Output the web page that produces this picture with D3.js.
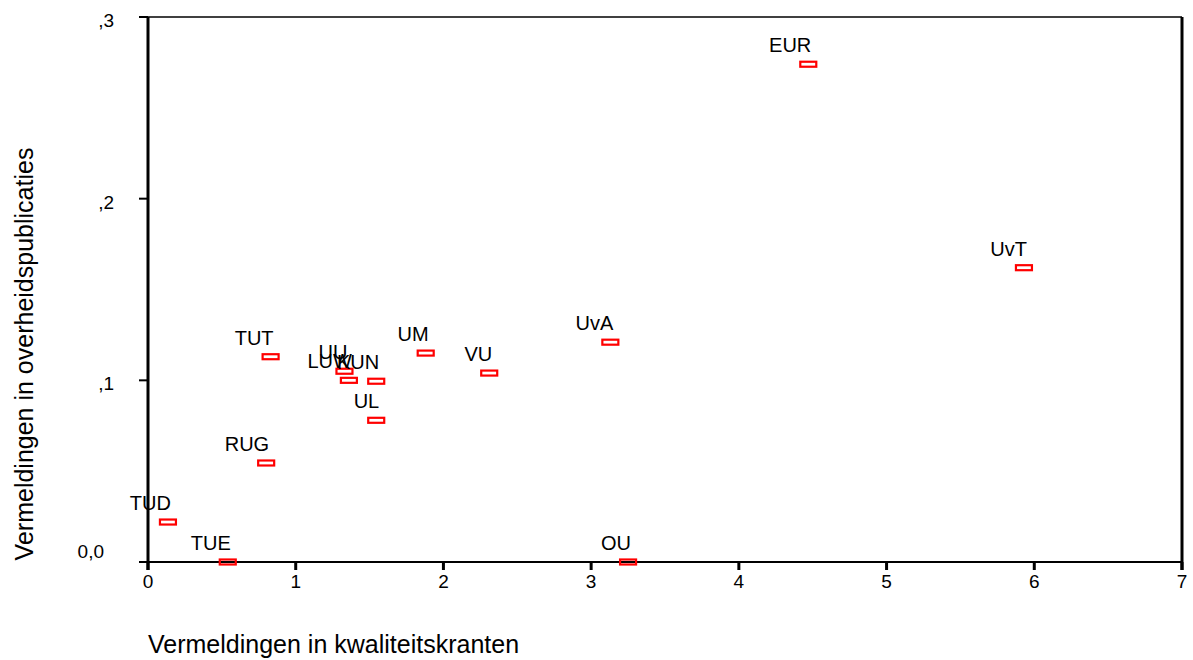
<!DOCTYPE html>
<html><head><meta charset="utf-8">
<script src="https://cdn.jsdelivr.net/npm/d3@7"></script>
<style>
body{margin:0;background:#fff;}
text{font-family:"Liberation Sans",Arial,sans-serif;fill:#000;}
</style></head>
<body><svg id="c" width="1193" height="660"></svg>
<script>
const labels = ["EUR","UvT","UvA","VU","UM","TUT","UU","LUW","KUN","UL","RUG","TUD","TUE","OU"];
const xVals = [4.47,5.93,3.13,2.31,1.88,0.83,1.33,1.36,1.545,1.545,0.80,0.135,0.54,3.25];
const yVals = [0.274,0.162,0.121,0.104,0.115,0.113,0.105,0.100,0.0995,0.078,0.0545,0.022,0.0,0.0];
const xTicks = [0,1,2,3,4,5,6,7];
const yTicks = [0,0.1,0.2,0.3];
const yTickLabels = ["0,0",",1",",2",",3"];
const xTitle = "Vermeldingen in kwaliteitskranten";
const yTitle = "Vermeldingen in overheidspublicaties";

const svg = d3.select("#c");
const L=148, R=1182, T=17, B=562;
const x = d3.scaleLinear().domain([0,7]).range([L,R]);
const y = d3.scaleLinear().domain([0,0.3]).range([B,T]);

// frame
svg.append("line").attr("x1",L).attr("x2",R).attr("y1",T).attr("y2",T).attr("stroke","#000").attr("stroke-width",1.5);
svg.append("line").attr("x1",L-9).attr("x2",R+1).attr("y1",B).attr("y2",B).attr("stroke","#000").attr("stroke-width",2);
svg.append("line").attr("x1",L).attr("x2",L).attr("y1",T).attr("y2",B+8).attr("stroke","#000").attr("stroke-width",3);
svg.append("line").attr("x1",R).attr("x2",R).attr("y1",T).attr("y2",B+8).attr("stroke","#000").attr("stroke-width",3);

// x axis ticks
const xg = svg.append("g");
xTicks.forEach(t=>{
  xg.append("line").attr("x1",x(t)).attr("x2",x(t)).attr("y1",B).attr("y2",B+8).attr("stroke","#000").attr("stroke-width",3);
  xg.append("text").attr("x",x(t)).attr("y",B+26).attr("text-anchor","middle").attr("font-size",19).text(t);
});
// y axis ticks
yTicks.forEach((t,i)=>{
  svg.append("line").attr("x1",L-9).attr("x2",L).attr("y1",y(t)).attr("y2",y(t)).attr("stroke","#000").attr("stroke-width",2);
  const first = i===0;
  svg.append("text").attr("x", first? 104 : 114).attr("y", y(t)+(first?-4:10))
    .attr("text-anchor","end").attr("font-size",19).text(yTickLabels[i]);
});

// titles
svg.append("text").attr("x",148).attr("y",653).attr("font-size",25).text(xTitle);
svg.append("text").attr("transform","translate(33,354) rotate(-90)").attr("text-anchor","middle").attr("font-size",25).text(yTitle);

// points
const pts = labels.map((l,i)=>({l, x:xVals[i], y:yVals[i]}));
svg.append("g").selectAll("rect").data(pts).join("rect")
  .attr("x",d=>x(d.x)-8).attr("y",d=>y(d.y)-2.5).attr("width",16).attr("height",5)
  .attr("fill","none").attr("stroke","#ff0000").attr("stroke-width",2.2);
svg.append("g").selectAll("text").data(pts).join("text")
  .attr("x",d=>x(d.x)+3).attr("y",d=>y(d.y)-12).attr("text-anchor","end").attr("font-size",20)
  .text(d=>d.l);
</script></body></html>
